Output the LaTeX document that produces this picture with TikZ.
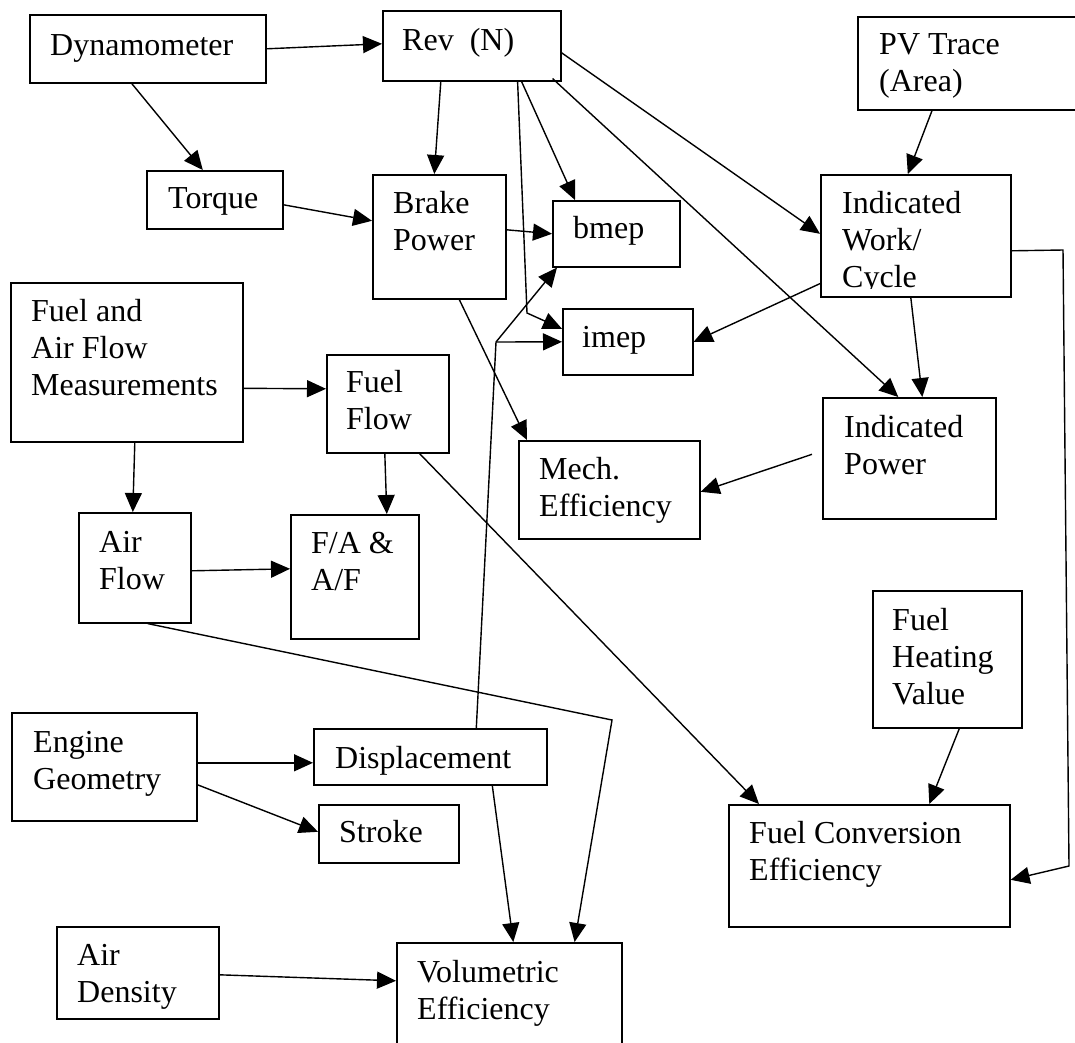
\documentclass[tikz,border=0pt]{standalone}
\usepackage{fontspec}
\setmainfont{Liberation Serif}
\usetikzlibrary{arrows.meta}

\tikzset{
  blk/.style={draw,line width=1.6pt,rectangle,anchor=north west,inner sep=0pt},
  lbl/.style={anchor=base west,inner sep=0pt,font=\fontsize{32}{37}\selectfont},
  conn/.style={line width=1.4pt,-{Triangle[length=19pt,width=17pt]}},
  wire/.style={line width=1.4pt}
}
\newcommand{\txt}[1]{\begin{tabular}[t]{@{}l@{}}#1\end{tabular}}

\begin{document}
\begin{tikzpicture}[x=1pt,y=-1pt]
\useasboundingbox (0,0) rectangle (1075,1042);
\clip (0,0) rectangle (1075,1042);
% draw boxes
\node[blk,minimum width=236pt,minimum height=68pt] (dyn) at (29,14) {};
\node[blk,minimum width=178pt,minimum height=70pt] (rev) at (382,10) {};
\node[blk,minimum width=136pt,minimum height=58pt] (torque) at (146,170) {};
\node[blk,minimum width=133pt,minimum height=124pt] (brake) at (372,174) {};
\node[blk,minimum width=127pt,minimum height=66pt] (bmep) at (552,200) {};
\node[blk,minimum width=130pt,minimum height=66pt] (imep) at (562,308) {};
\node[blk,minimum width=190pt,minimum height=122pt] (indwork) at (820,174) {};
\node[blk,minimum width=228pt,minimum height=93pt] (pv) at (857,16) {};
\node[blk,minimum width=173pt,minimum height=121pt] (indpow) at (822,397) {};
\node[blk,minimum width=181pt,minimum height=98pt] (mech) at (518,440) {};
\node[blk,minimum width=232pt,minimum height=159pt] (fam) at (10,282) {};
\node[blk,minimum width=122pt,minimum height=98pt] (fuelflow) at (326,354) {};
\node[blk,minimum width=112pt,minimum height=110pt] (airflow) at (78,512) {};
\node[blk,minimum width=128pt,minimum height=124pt] (fa) at (290,514) {};
\node[blk,minimum width=185pt,minimum height=108pt] (engine) at (11,712) {};
\node[blk,minimum width=233pt,minimum height=56pt] (disp) at (313,728) {};
\node[blk,minimum width=140pt,minimum height=58pt] (stroke) at (318,804) {};
\node[blk,minimum width=162pt,minimum height=92pt] (airdens) at (56,926) {};
\node[blk,minimum width=225pt,minimum height=118pt] (voleff) at (396,942) {};
\node[blk,minimum width=149pt,minimum height=137pt] (fhv) at (872,590) {};
\node[blk,minimum width=281pt,minimum height=122pt] (fce) at (728,804) {};
% draw box texts
\node[lbl] (dyn-t) at ([shift={(21pt,-41pt)}]dyn.north west) {\txt{Dynamometer}};
\node[lbl] (rev-t) at ([shift={(20pt,-40pt)}]rev.north west) {\txt{Rev\ \ (N)}};
\node[lbl] (torque-t) at ([shift={(22pt,-38pt)}]torque.north west) {\txt{Torque}};
\node[lbl] (brake-t) at ([shift={(21pt,-39pt)}]brake.north west) {\txt{Brake\\Power}};
\node[lbl] (bmep-t) at ([shift={(21pt,-38pt)}]bmep.north west) {\txt{bmep}};
\node[lbl] (imep-t) at ([shift={(20pt,-39pt)}]imep.north west) {\txt{imep}};
\begin{scope}
\clip (indwork.north west) rectangle ([yshift=9pt]indwork.south east);
\node[lbl] (indwork-t) at ([shift={(22pt,-39pt)}]indwork.north west) {\txt{Indicated\\Work/\\Cycle}};
\end{scope}
\node[lbl] (pv-t) at ([shift={(22pt,-38pt)}]pv.north west) {\txt{PV Trace\\(Area)}};
\node[lbl] (indpow-t) at ([shift={(22pt,-40pt)}]indpow.north west) {\txt{Indicated\\Power}};
\node[lbl] (mech-t) at ([shift={(21pt,-39pt)}]mech.north west) {\txt{Mech.\\Efficiency}};
\node[lbl] (fam-t) at ([shift={(21pt,-39pt)}]fam.north west) {\txt{Fuel and\\Air Flow\\Measurements}};
\node[lbl] (fuelflow-t) at ([shift={(20pt,-38pt)}]fuelflow.north west) {\txt{Fuel\\Flow}};
\node[lbl] (airflow-t) at ([shift={(21pt,-40pt)}]airflow.north west) {\txt{Air\\Flow}};
\node[lbl] (fa-t) at ([shift={(21pt,-39pt)}]fa.north west) {\txt{F/A \&\\A/F}};
\node[lbl] (engine-t) at ([shift={(22pt,-40pt)}]engine.north west) {\txt{Engine\\Geometry}};
\node[lbl] (disp-t) at ([shift={(22pt,-40pt)}]disp.north west) {\txt{Displacement}};
\node[lbl] (stroke-t) at ([shift={(21pt,-38pt)}]stroke.north west) {\txt{Stroke}};
\node[lbl] (airdens-t) at ([shift={(21pt,-39pt)}]airdens.north west) {\txt{Air\\Density}};
\node[lbl] (voleff-t) at ([shift={(21pt,-40pt)}]voleff.north west) {\txt{Volumetric\\Efficiency}};
\node[lbl] (fhv-t) at ([shift={(20pt,-40pt)}]fhv.north west) {\txt{Fuel\\Heating\\Value}};
\node[lbl] (fce-t) at ([shift={(21pt,-39pt)}]fce.north west) {\txt{Fuel Conversion\\Efficiency}};
% bend points
\coordinate (rbend) at (527,313);
\coordinate (dbend) at (496,342);
\coordinate (abend) at (612,720);
\coordinate (wtop) at (1063,250);
\coordinate (wbot) at (1069,866);
% draw connectors, top part
\draw[conn] (dyn.east) -- ([yshift=2pt]rev.west);
\draw[conn] ([xshift=-16pt]dyn.south) -- ([xshift=-12pt]torque.north);
\draw[conn] ([xshift=-31pt]rev.south) -- ([xshift=-5pt]brake.north);
\draw[conn] ([yshift=-5pt]torque.east) -- ([yshift=16pt]brake.west);
\draw[conn] ([yshift=7pt]brake.east) -- (bmep.west);
\draw[conn] ([xshift=-40pt]rev.south east) -- ([xshift=23pt]bmep.north west);
\draw[conn] ([xshift=-44pt]rev.south east) -- (rbend) -- ([yshift=13pt]imep.west);
\draw[conn] ([yshift=-7pt]rev.east) -- ([yshift=2pt]indwork.west);
\draw[conn] ([shift={(-9pt,3pt)}]rev.south east) -- ([xshift=-11pt]indpow.north);
\draw[conn] ([xshift=75pt]pv.south west) -- ([xshift=-8pt]indwork.north);
\draw[conn] ([yshift=14pt]indwork.south west) -- (imep.east);
\draw[conn] ([xshift=-5pt]indwork.south) -- ([xshift=13pt]indpow.north);
\draw[conn] ([yshift=-15pt]indwork.east) -- (wtop) -- (wbot) -- ([yshift=-14pt]fce.east);
\draw[conn] ([shift={(-10pt,4pt)}]indpow.west) -- ([yshift=-2pt]mech.east);
\draw[conn] ([xshift=20pt]brake.south) -- ([xshift=9pt]mech.north west);
%
\draw[wire] ([xshift=46pt]disp.north) -- (dbend);
\draw[conn] (dbend) -- ([xshift=5pt]bmep.south west);
\draw[conn] (dbend) -- (imep.west);
% draw connectors, fuel and air
\draw[conn] ([yshift=-26pt]fam.east) -- ([yshift=15pt]fuelflow.west);
\draw[conn] ([xshift=8pt]fam.south) -- ([xshift=-2pt]airflow.north);
\draw[conn] ([yshift=-3pt]airflow.east) -- ([yshift=8pt]fa.west);
\draw[conn] ([xshift=-3pt]fuelflow.south) -- ([xshift=32pt]fa.north);
\draw[conn] ([xshift=-30pt]fuelflow.south east) -- ([xshift=31pt]fce.north west);
\draw[conn] ([xshift=13pt]airflow.south) -- (abend) -- ([xshift=-48pt]voleff.north east);
\draw[conn] ([xshift=12pt]fhv.south) -- ([xshift=60pt]fce.north);
% draw connectors, bottom part
\draw[conn] ([yshift=4pt]engine.east) -- ([yshift=-6pt]disp.west);
\draw[conn] ([yshift=-18pt]engine.east) -- ([yshift=2pt]stroke.west);
\draw[conn] ([xshift=62pt]disp.south) -- ([xshift=4pt]voleff.north);
\draw[conn] ([yshift=-2pt]airdens.east) -- ([yshift=21pt]voleff.west);
\end{tikzpicture}
\end{document}
